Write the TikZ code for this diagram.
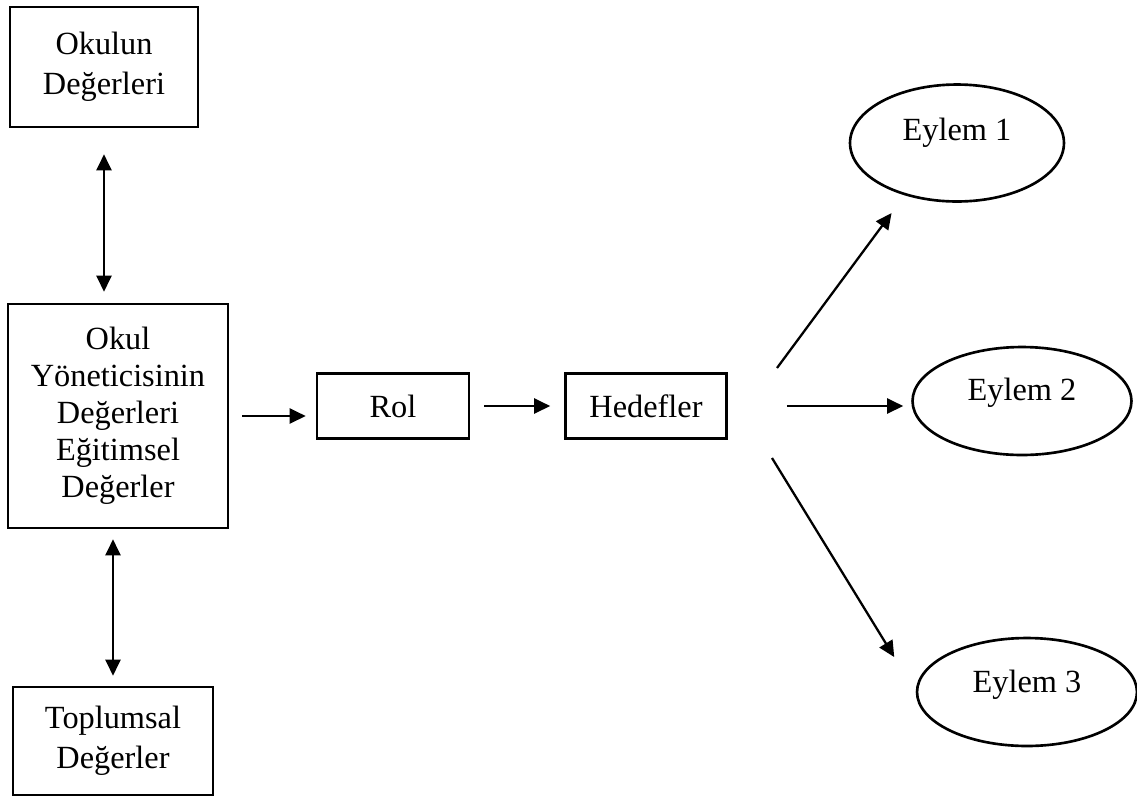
\documentclass[tikz,border=0pt]{standalone}
\usepackage{fontspec}
\setmainfont{Liberation Serif}
\usetikzlibrary{shapes,arrows.meta,calc}

\tikzset{
  kutu/.style={draw,line width=1.5pt,align=center,inner sep=0pt,
    font=\fontsize{18.4}{21}\selectfont},
  eylem/.style={draw,ellipse,line width=1.5pt,inner sep=0pt,
    font=\fontsize{18.4}{21}\selectfont},
  ok/.style={line width=1.3pt},
  uc/.tip={Triangle[length=0.32cm,width=0.3cm]}
}

\begin{document}
\begin{tikzpicture}[x=0.02cm,y=-0.02cm]
				\useasboundingbox (0,0) rectangle (1137,799);
				% left column of values
				\node[kutu,minimum width=3.76cm,minimum height=2.4cm,
				      font=\fontsize{18.4}{23}\selectfont] (okulun) at (104,67) {Okulun\\De\u{g}erleri};
				\node[kutu,minimum width=4.4cm,minimum height=4.48cm] (yonetici) at (118,416)
				      {Okul\\Y\"oneticisinin\\De\u{g}erleri\\E\u{g}itimsel\\De\u{g}erler};
				\node[kutu,minimum width=4cm,minimum height=2.16cm,
				      font=\fontsize{18.4}{23}\selectfont] (toplum) at (113,741) {Toplumsal\\De\u{g}erler};
				
				% middle row
				\node[kutu,minimum width=3.04cm,minimum height=1.3cm] (rol) at (393,406) {Rol};
				\node[kutu,minimum width=3.22cm,minimum height=1.3cm] (hedef) at (646,406) {Hedefler};
				
				% actions
				\node[eylem,minimum width=4.28cm,minimum height=2.34cm] (eylem1) at (957,143)
				      {\raisebox{0.2cm}[\height][\depth]{Eylem 1}};
				\node[eylem,minimum width=4.38cm,minimum height=2.16cm] (eylem2) at (1022,401)
				      {\raisebox{0.17cm}[\height][\depth]{Eylem 2}};
				\node[eylem,minimum width=4.4cm,minimum height=2.16cm] (eylem3) at (1027,692)
				      {\raisebox{0.15cm}[\height][\depth]{Eylem 3}};
				
				\coordinate (h1) at (777,368);
				\coordinate (h3) at (772,458);
				
				\draw [ok,uc-uc,shorten <=0.52cm,shorten >=0.22cm] (okulun.south) -- (okulun.south |- yonetici.north);
				\draw [ok,uc-uc,shorten <=0.2cm,shorten >=0.2cm] (toplum.north) -- (toplum.north |- yonetici.south);
				\draw [ok,-uc,shorten <=0.26cm,shorten >=0.2cm] (yonetici) -- (yonetici -| rol.west);
				\draw [ok,-uc,shorten <=0.28cm,shorten >=0.28cm] (rol.east) -- (hedef.west);
				\draw [ok,-uc,shorten >=0.44cm] (h1) -- (eylem1.225);
				\draw [ok,-uc,shorten <=1.18cm,shorten >=0.16cm] (hedef.east) -- (hedef.east -| eylem2.west);
				\draw [ok,-uc,shorten >=0.82cm] (h3) -- (eylem3.west);
				
\end{tikzpicture}
\end{document}
